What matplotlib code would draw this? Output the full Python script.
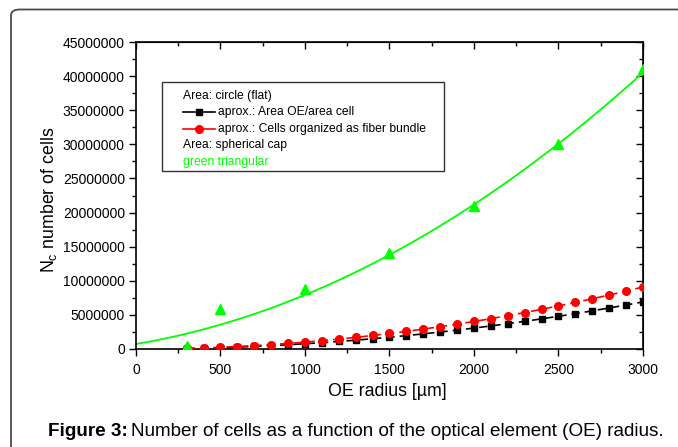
import numpy as np
import matplotlib
matplotlib.use("Agg")
import matplotlib.pyplot as plt
from matplotlib.patches import FancyBboxPatch, Rectangle
from matplotlib.lines import Line2D
from matplotlib.ticker import MultipleLocator

plt.rcParams["font.family"] = ["Liberation Sans", "DejaVu Sans"]
plt.rcParams["mathtext.default"] = "regular"

# OE radius [um]
radius = [300, 400, 500, 600, 700, 800, 900, 1000, 1100, 1200, 1300, 1400,
          1500, 1600, 1700, 1800, 1900, 2000, 2100, 2200, 2300, 2400, 2500,
          2600, 2700, 2800, 2900, 3000]
# aprox.: Area OE / area cell (millions of cells)
area_cell = [0.069, 0.123, 0.192, 0.276, 0.376, 0.491, 0.621, 0.767, 0.928,
             1.104, 1.296, 1.503, 1.726, 1.963, 2.217, 2.485, 2.769, 3.068,
             3.382, 3.712, 4.057, 4.418, 4.794, 5.185, 5.591, 6.013, 6.450,
             6.903]
# aprox.: cells organized as fiber bundle (millions)
fiber_bundle = [0.091, 0.162, 0.253, 0.364, 0.495, 0.646, 0.818, 1.010,
                1.222, 1.454, 1.707, 1.980, 2.273, 2.586, 2.919, 3.272,
                3.646, 4.040, 4.454, 4.888, 5.343, 5.818, 6.313, 6.828,
                7.363, 7.918, 8.494, 9.090]
# spherical cap, green triangles (millions)
cap_radius = [300, 500, 1000, 1500, 2000, 2500, 3000]
cap_cells = [0.4, 5.9, 8.8, 14.0, 21.0, 30.1, 41.0]
# fitted curve shown in green: c2*r^2 + c1*r + c0 (millions)
cap_fit_coef = [3.03e-6, 4.17e-3, 0.73]

x_ticks = [0, 500, 1000, 1500, 2000, 2500, 3000]
y_ticks = [0, 5000000, 10000000, 15000000, 20000000, 25000000, 30000000,
           35000000, 40000000, 45000000]

W, H = 678, 447
fig = plt.figure(figsize=(W / 100, H / 100), dpi=100)


def fx(px):
    return px / W


def fy(py):
    return 1 - py / H


# rounded frame around the figure (runs off the right and bottom edges)
frame = FancyBboxPatch((fx(11), fy(700)), fx(900), (700 - 9.5) / H,
                       boxstyle="round,pad=0,rounding_size=0.013",
                       transform=fig.transFigure, fill=False,
                       edgecolor="#4a4a4a", lw=1.3, clip_on=False)
fig.patches.append(frame)

ax = fig.add_axes([fx(136), fy(349), fx(643) - fx(136), fy(42) - fy(349)])

r = np.array(radius, dtype=float)
ax.plot(r, np.array(area_cell) * 1e6, color="black", lw=1.2,
        ls=(0, (5, 3)), marker="s", ms=5, zorder=3)
ax.plot(r, np.array(fiber_bundle) * 1e6, color="red", lw=1.2,
        ls=(0, (5, 3)), marker="o", ms=5.5, zorder=4)

r_fit = np.linspace(0, 3000, 200)
ax.plot(r_fit, np.polyval(cap_fit_coef, r_fit) * 1e6, color="#00ff00",
        lw=1.3, zorder=2)
ax.plot(cap_radius, np.array(cap_cells) * 1e6, ls="none", marker="^",
        ms=7, color="#00ff00", zorder=5)

ax.set_xlim(0, 3000)
ax.set_ylim(0, 45000000)
ax.set_xticks(x_ticks)
ax.set_yticks(y_ticks)
ax.set_yticklabels([str(v) for v in y_ticks])
ax.xaxis.set_minor_locator(MultipleLocator(250))
ax.yaxis.set_minor_locator(MultipleLocator(2500000))
ax.tick_params(which="both", direction="out", top=False, right=False,
               labelsize=10, colors="black", width=1)
ax.tick_params(which="major", length=5)
ax.tick_params(which="minor", length=3)
ax.tick_params(axis="x", pad=5)
ax.tick_params(axis="y", pad=3)
for s in ax.spines.values():
    s.set_linewidth(1.2)

# inward ticks on top and right axes
ax_top = ax.secondary_xaxis("top")
ax_top.set_xticks(x_ticks)
ax_top.xaxis.set_minor_locator(MultipleLocator(250))
ax_top.tick_params(which="both", direction="in", labeltop=False, width=1)
ax_top.tick_params(which="major", length=5)
ax_top.tick_params(which="minor", length=3)
ax_right = ax.secondary_yaxis("right")
ax_right.set_yticks(y_ticks)
ax_right.yaxis.set_minor_locator(MultipleLocator(2500000))
ax_right.tick_params(which="both", direction="in", labelright=False, width=1)
ax_right.tick_params(which="major", length=5)
ax_right.tick_params(which="minor", length=3)

fig.text(fx(387), fy(392), "OE radius [\u00b5m]", fontsize=12.8,
         ha="center", va="center")
fig.text(fx(49), fy(200), r"$N_c$ number of cells", fontsize=12.8,
         rotation=90, ha="center", va="center")

# caption
cap1 = fig.text(fx(48), fy(431), "Figure 3:", fontsize=13.6,
                fontweight="bold", ha="left", va="center")
fig.canvas.draw()
bb = cap1.get_window_extent()
fig.text(bb.x1 / W + fx(3), fy(431),
         "Number of cells as a function of the optical element (OE) radius.",
         fontsize=13.6, ha="left", va="center")

# legend box, drawn by hand
fig.patches.append(Rectangle((fx(162), fy(171)), fx(444) - fx(162),
                             fy(82) - fy(171), transform=fig.transFigure,
                             fill=False, edgecolor="#333333", lw=1.0,
                             zorder=10))
leg_fs = 8.7
rows = [96, 112, 129, 145, 162]
fig.text(fx(183), fy(rows[0]), "Area: circle (flat)", fontsize=leg_fs,
         va="center")
for row, col, mk, ms, lab in [
        (rows[1], "black", "s", 5, "aprox.: Area OE/area cell"),
        (rows[2], "red", "o", 5.5, "aprox.: Cells organized as fiber bundle")]:
    for x0, x1 in [(183, 195), (203, 215)]:
        fig.lines.append(Line2D([fx(x0), fx(x1)], [fy(row), fy(row)],
                                transform=fig.transFigure, color=col,
                                lw=1.2))
    fig.lines.append(Line2D([fx(199)], [fy(row)], transform=fig.transFigure,
                            color=col, marker=mk, ms=ms, ls="none"))
    fig.text(fx(218), fy(row), lab, fontsize=leg_fs, va="center")
fig.text(fx(183), fy(rows[3]), "Area: spherical cap", fontsize=leg_fs,
         va="center")
fig.text(fx(183), fy(rows[4]), "green triangular", fontsize=leg_fs,
         va="center", color="#00ff00")

fig.savefig("out.png", dpi=100)
